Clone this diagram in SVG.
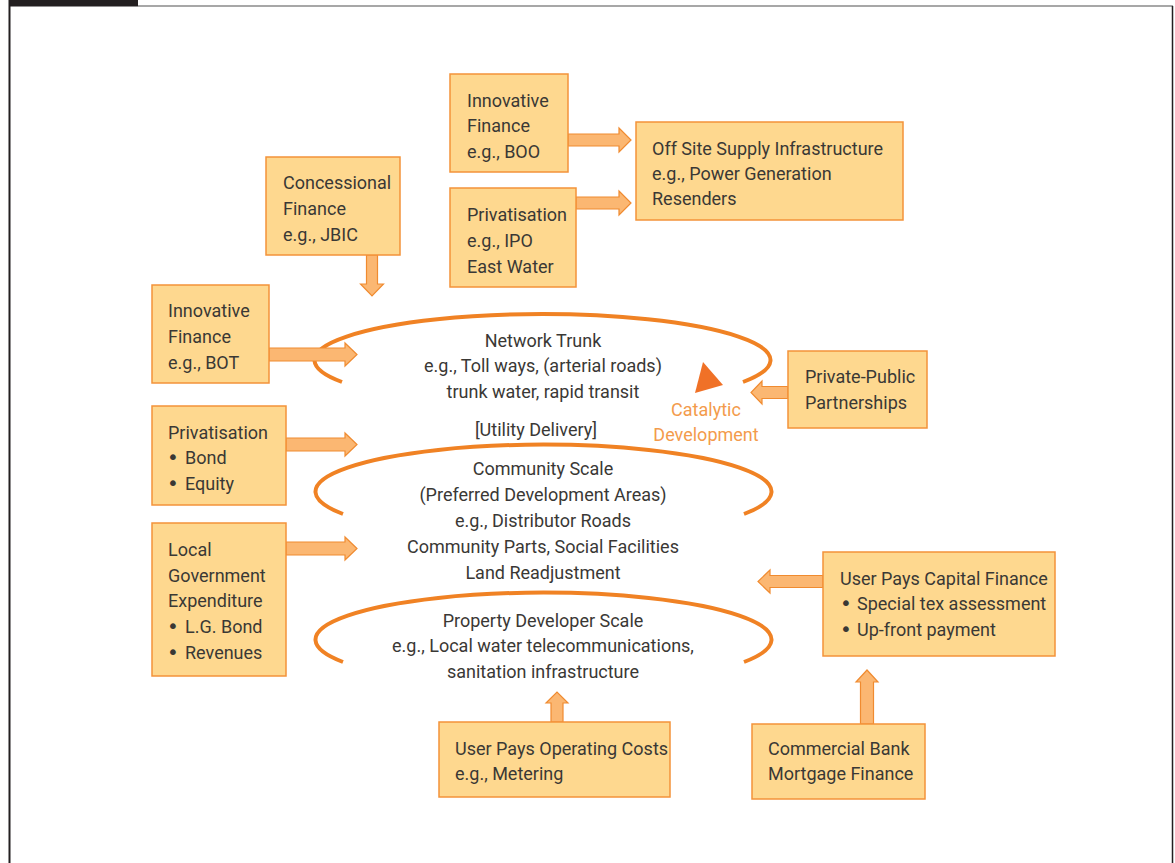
<svg xmlns="http://www.w3.org/2000/svg" width="1175" height="863" viewBox="0 0 1175 863">
<style>
.box{fill:#FED88F;stroke:#F3933A;stroke-width:1.5}
.t{font-family:Roboto,"Liberation Sans",sans-serif;font-size:18px;fill:#3a3835}
.c{text-anchor:middle}
.b{font-family:"DejaVu Sans",sans-serif;font-size:20px}
.arr{fill:#FBB772;stroke:#F08B30;stroke-width:1.2;stroke-linejoin:miter}
.loop{fill:none;stroke:#F08224;stroke-width:4;stroke-linecap:butt}
.cat{font-family:Roboto,"Liberation Sans",sans-serif;font-size:18px;fill:#F39B4C;text-anchor:middle}
</style>
<rect x="0" y="0" width="1175" height="863" fill="#ffffff"/>
<g id="frame">
<rect x="9" y="0" width="129" height="6.5" fill="#231f20"/>
<line x1="138" y1="6" x2="1173" y2="6" stroke="#8a8a8a" stroke-width="1.5"/>
<line x1="9.5" y1="0" x2="9.5" y2="863" stroke="#231f20" stroke-width="2"/>
<line x1="1172.5" y1="6" x2="1172.5" y2="863" stroke="#231f20" stroke-width="1.5"/>
</g>
<g id="loops">
<path class="loop" d="M342,382 A228,46 0 1 1 743,382"/>
<path class="loop" d="M343,514 A228,47 0 1 1 744,514"/>
<path class="loop" d="M343,662 A228,47 0 1 1 744,662"/>
</g>
<g id="connectors">
<path class="arr" d="M568,134 L619,134 L619,128 L631,140 L619,152 L619,146 L568,146 Z"/>
<path class="arr" d="M576,197 L619,197 L619,191 L631,203 L619,215 L619,209 L576,209 Z"/>
<path class="arr" d="M366.5,255 L366.5,284 L360.5,284 L372,296 L383.5,284 L377.5,284 L377.5,255 Z"/>
<path class="arr" d="M269,348 L345,348 L345,343 L357,354.5 L345,366 L345,361 L269,361 Z"/>
<path class="arr" d="M286,438 L345,438 L345,433 L357,444.5 L345,456 L345,451 L286,451 Z"/>
<path class="arr" d="M286,542 L345,542 L345,537 L357,548.5 L345,560 L345,555 L286,555 Z"/>
<path class="arr" d="M788,386.5 L762,386.5 L762,381 L751,392.5 L762,404 L762,398.5 L788,398.5 Z"/>
<path class="arr" d="M823,575.5 L770,575.5 L770,570 L758,581.5 L770,593 L770,587.5 L823,587.5 Z"/>
<path class="arr" d="M551,722 L551,703 L546,703 L557,692 L568,703 L563,703 L563,722 Z"/>
<path class="arr" d="M860.5,724 L860.5,682 L856,682 L867,670 L878,682 L873.5,682 L873.5,724 Z"/>
</g>
<g id="n-boo">
<rect class="box" x="450" y="74" width="118" height="98"/>
<text class="t" x="467" y="107">Innovative</text>
<text class="t" x="467" y="132">Finance</text>
<text class="t" x="467" y="158">e.g., BOO</text>
</g>
<g id="n-ipo">
<rect class="box" x="450" y="188" width="126" height="99"/>
<text class="t" x="467" y="221">Privatisation</text>
<text class="t" x="467" y="247">e.g., IPO</text>
<text class="t" x="467" y="273">East Water</text>
</g>
<g id="n-offsite">
<rect class="box" x="636" y="122" width="267" height="98"/>
<text class="t" x="652" y="155">Off Site Supply Infrastructure</text>
<text class="t" x="652" y="180">e.g., Power Generation</text>
<text class="t" x="652" y="205">Resenders</text>
</g>
<g id="n-concessional">
<rect class="box" x="266" y="157" width="134" height="98"/>
<text class="t" x="283" y="189">Concessional</text>
<text class="t" x="283" y="215">Finance</text>
<text class="t" x="283" y="241">e.g., JBIC</text>
</g>
<g id="n-bot">
<rect class="box" x="152" y="285" width="117" height="98"/>
<text class="t" x="168" y="317">Innovative</text>
<text class="t" x="168" y="343">Finance</text>
<text class="t" x="168" y="369">e.g., BOT</text>
</g>
<g id="n-network">
<text class="t c" x="543" y="347">Network Trunk</text>
<text class="t c" x="543" y="372">e.g., Toll ways, (arterial roads)</text>
<text class="t c" x="543" y="398">trunk water, rapid transit</text>
<text class="t c" x="536" y="436">[Utility Delivery]</text>
</g>
<g id="n-catalytic">
<polygon points="703,362 695,393 723,385" fill="#F07127"/>
<text class="cat" x="706" y="416">Catalytic</text>
<text class="cat" x="706" y="441">Development</text>
</g>
<g id="n-ppp">
<rect class="box" x="788" y="351" width="139" height="77"/>
<text class="t" x="805" y="383">Private-Public</text>
<text class="t" x="805" y="409">Partnerships</text>
</g>
<g id="n-bond">
<rect class="box" x="152" y="406" width="134" height="99"/>
<text class="t" x="168" y="439">Privatisation</text>
<text class="t" x="167" y="464"><tspan class="b">•</tspan> <tspan x="185">Bond</tspan></text>
<text class="t" x="167" y="490"><tspan class="b">•</tspan> <tspan x="185">Equity</tspan></text>
</g>
<g id="n-community">
<text class="t c" x="543" y="475">Community Scale</text>
<text class="t c" x="543" y="501">(Preferred Development Areas)</text>
<text class="t c" x="543" y="527">e.g., Distributor Roads</text>
<text class="t c" x="543" y="553">Community Parts, Social Facilities</text>
<text class="t c" x="543" y="579">Land Readjustment</text>
</g>
<g id="n-localgov">
<rect class="box" x="152" y="523" width="134" height="153"/>
<text class="t" x="168" y="556">Local</text>
<text class="t" x="168" y="582">Government</text>
<text class="t" x="168" y="607">Expenditure</text>
<text class="t" x="167" y="633"><tspan class="b">•</tspan> <tspan x="185">L.G. Bond</tspan></text>
<text class="t" x="167" y="659"><tspan class="b">•</tspan> <tspan x="185">Revenues</tspan></text>
</g>
<g id="n-usercap">
<rect class="box" x="823" y="552" width="232" height="104"/>
<text class="t" x="840" y="585">User Pays Capital Finance</text>
<text class="t" x="840" y="610"><tspan class="b">•</tspan> <tspan x="857">Special tex assessment</tspan></text>
<text class="t" x="840" y="636"><tspan class="b">•</tspan> <tspan x="857">Up-front payment</tspan></text>
</g>
<g id="n-property">
<text class="t c" x="543" y="627">Property Developer Scale</text>
<text class="t c" x="543" y="652">e.g., Local water telecommunications,</text>
<text class="t c" x="543" y="678">sanitation infrastructure</text>
</g>
<g id="n-operating">
<rect class="box" x="439" y="722" width="231" height="75"/>
<text class="t" x="455" y="755">User Pays Operating Costs</text>
<text class="t" x="455" y="780">e.g., Metering</text>
</g>
<g id="n-bank">
<rect class="box" x="752" y="724" width="173" height="75"/>
<text class="t" x="768" y="755">Commercial Bank</text>
<text class="t" x="768" y="780">Mortgage Finance</text>
</g>
</svg>
